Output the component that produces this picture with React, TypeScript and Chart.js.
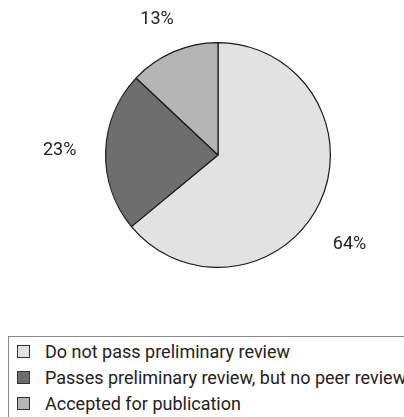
import React, { useEffect, useRef } from "react";
import { Chart, registerables } from "chart.js";

Chart.register(...registerables);

const categories = [
  "Do not pass preliminary review",
  "Passes preliminary review, but no peer review",
  "Accepted for publication",
];
const values = [64, 23, 13];
const valueLabels = ["64%", "23%", "13%"];
const colors = ["#e1e2e1", "#6d6e6d", "#b4b5b4"];

const FONT = "Roboto, 'Noto Sans', sans-serif";

const labelPlugin = {
  id: "outerLabels",
  afterDatasetsDraw(chart: any) {
    const ctx = chart.ctx;
    const meta = chart.getDatasetMeta(0);
    const extra = [{ d: 47, a: 0.16 }, { d: 46, a: 0 }, { d: 36, a: -0.015 }];
    ctx.save();
    ctx.font = "18px " + FONT;
    ctx.fillStyle = "#222";
    ctx.textAlign = "center";
    ctx.textBaseline = "middle";
    meta.data.forEach((arc: any, i: number) => {
      const p = arc.getProps(["x", "y", "startAngle", "endAngle", "outerRadius"], true);
      const mid = (p.startAngle + p.endAngle) / 2 + extra[i].a;
      const r = p.outerRadius + extra[i].d;
      ctx.fillText(valueLabels[i], p.x + Math.cos(mid) * r, p.y + Math.sin(mid) * r);
    });
    ctx.restore();
  },
};

export default function App() {
  const ref = useRef<HTMLCanvasElement>(null);
  useEffect(() => {
    document.body.style.margin = "0";
    const chart = new Chart(ref.current!, {
      type: "pie",
      data: {
        labels: categories,
        datasets: [
          {
            data: values,
            backgroundColor: colors,
            borderColor: "#1a1a1a",
            borderWidth: 1.2,
          },
        ],
      },
      options: {
        animation: false,
        responsive: false,
        layout: { padding: { left: 104, right: 72, top: 42, bottom: 32 } },
        plugins: { legend: { display: false }, tooltip: { enabled: false } },
      },
      plugins: [labelPlugin],
    });
    return () => chart.destroy();
  }, []);
  return (
    <div style={{ position: "relative", width: 404, height: 417, overflow: "hidden", background: "#fff" }}>
      <canvas ref={ref} width={404} height={300} style={{ position: "absolute", left: 0, top: 0 }} />
      <div
        style={{
          position: "absolute",
          left: 8,
          top: 336,
          width: 420,
          height: 100,
          border: "1px solid #8a8a8a",
          fontFamily: FONT,
          fontSize: 18,
          color: "#222",
        }}
      >
        {categories.map((c, i) => (
          <div key={c} style={{ position: "absolute", left: 8, top: 1 + i * 26, height: 26, display: "flex", alignItems: "center", whiteSpace: "nowrap" }}>
            <span style={{ display: "inline-block", boxSizing: "border-box", width: 13, height: 13, background: colors[i], border: "1px solid #333", marginRight: 15 }} />
            <span>{c}</span>
          </div>
        ))}
      </div>
    </div>
  );
}
